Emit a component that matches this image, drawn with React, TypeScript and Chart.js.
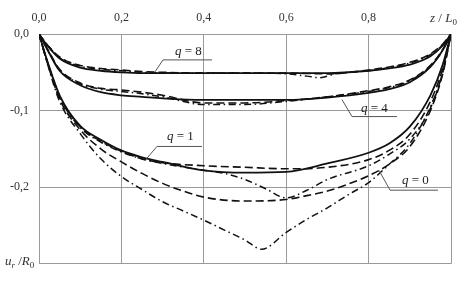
import React, { useEffect, useRef } from "react";
import { Chart, registerables } from "chart.js";
Chart.register(...registerables);

// ---- data (z/L0 along x, ur/R0 along y) ----
const X_COMMON = [0, 0.02, 0.05, 0.1, 0.15, 0.2, 0.25, 0.3, 0.4, 0.5, 0.6, 0.7, 0.8, 0.85, 0.9, 0.95, 0.98, 1];

const Q8_SOLID = [0, -0.015, -0.032, -0.044, -0.048, -0.05, -0.051, -0.051, -0.051, -0.051, -0.051, -0.051, -0.048, -0.045, -0.04, -0.029, -0.015, 0];
const Q8_DASH = [0, -0.014, -0.03, -0.041, -0.045, -0.047, -0.049, -0.05, -0.051, -0.051, -0.051, -0.052, -0.047, -0.043, -0.037, -0.026, -0.013, 0];
const Q8_DASHDOT_X = [0, 0.02, 0.05, 0.1, 0.15, 0.2, 0.25, 0.3, 0.4, 0.5, 0.6, 0.65, 0.68, 0.72, 0.8, 0.85, 0.9, 0.95, 0.98, 1];
const Q8_DASHDOT = [0, -0.014, -0.031, -0.042, -0.046, -0.048, -0.05, -0.051, -0.051, -0.051, -0.052, -0.055, -0.057, -0.052, -0.048, -0.044, -0.038, -0.027, -0.014, 0];

const Q4_SOLID = [0, -0.02, -0.048, -0.067, -0.076, -0.08, -0.082, -0.084, -0.086, -0.086, -0.086, -0.083, -0.077, -0.072, -0.063, -0.043, -0.021, 0];
const Q4_DASH = [0, -0.019, -0.046, -0.064, -0.071, -0.073, -0.076, -0.08, -0.09, -0.09, -0.087, -0.082, -0.074, -0.069, -0.06, -0.041, -0.02, 0];
const Q4_DASHDOT = [0, -0.02, -0.047, -0.065, -0.072, -0.075, -0.078, -0.082, -0.092, -0.092, -0.088, -0.082, -0.075, -0.07, -0.061, -0.042, -0.021, 0];

const Q1_SOLID = [0, -0.035, -0.08, -0.12, -0.138, -0.152, -0.161, -0.167, -0.178, -0.181, -0.18, -0.169, -0.155, -0.143, -0.121, -0.08, -0.04, 0];
const Q1_DASH = [0, -0.036, -0.081, -0.121, -0.14, -0.153, -0.163, -0.168, -0.172, -0.174, -0.176, -0.174, -0.164, -0.152, -0.131, -0.088, -0.045, 0];
const Q1_DASHDOT_X = [0, 0.02, 0.05, 0.1, 0.15, 0.2, 0.25, 0.3, 0.4, 0.45, 0.5, 0.55, 0.6, 0.65, 0.7, 0.8, 0.85, 0.9, 0.95, 0.98, 1];
const Q1_DASHDOT = [0, -0.036, -0.082, -0.122, -0.141, -0.154, -0.163, -0.169, -0.178, -0.182, -0.19, -0.202, -0.214, -0.204, -0.19, -0.172, -0.157, -0.137, -0.097, -0.05, 0];

const Q0_DASH_X = [0, 0.02, 0.05, 0.1, 0.15, 0.2, 0.25, 0.3, 0.35, 0.4, 0.5, 0.6, 0.65, 0.7, 0.75, 0.8, 0.85, 0.9, 0.95, 0.98, 1];
const Q0_DASH = [0, -0.037, -0.085, -0.125, -0.15, -0.167, -0.182, -0.195, -0.205, -0.213, -0.218, -0.216, -0.211, -0.205, -0.196, -0.185, -0.17, -0.147, -0.1, -0.052, 0];
const Q0_DASHDOT_X = [0, 0.02, 0.05, 0.1, 0.15, 0.2, 0.25, 0.3, 0.35, 0.4, 0.45, 0.5, 0.54, 0.6, 0.65, 0.7, 0.75, 0.8, 0.85, 0.9, 0.95, 0.98, 1];
const Q0_DASHDOT = [0, -0.038, -0.088, -0.13, -0.163, -0.186, -0.203, -0.219, -0.231, -0.243, -0.256, -0.269, -0.281, -0.259, -0.242, -0.227, -0.21, -0.194, -0.17, -0.143, -0.095, -0.05, 0];

// axis ticks
const X_MIN = 0, X_MAX = 1, X_STEP = 0.2;
const Y_MIN = -0.3, Y_MAX = 0, Y_STEP = 0.1;

// curve annotations: label text, text anchor (data units), leader polyline (data units)
const LABEL_Q = ["8", "4", "1", "0"];
const LABEL_POS = [[0.33, -0.0273], [0.7816, -0.1013], [0.3107, -0.139], [0.881, -0.196]];
const LEADERS = [
  [[0.2816, -0.0494], [0.301, -0.0338], [0.42, -0.0338]],
  [[0.7354, -0.0857], [0.7597, -0.1078], [0.8689, -0.1078]],
  [[0.2597, -0.1636], [0.2864, -0.1468], [0.3956, -0.1468]],
  [[0.8252, -0.1779], [0.852, -0.2039], [0.9684, -0.2039]],
];

const SERIF = "\"Liberation Serif\", \"Times New Roman\", serif";
const SOLID: number[] = [];
const DASH = [8, 4];
const DASHDOT = [7, 3.5, 1.5, 3.5];

const pts = (xs: number[], ys: number[]) => xs.map((x, i) => ({ x, y: ys[i] }));

function ds(xs: number[], ys: number[], dash: number[], width: number) {
  return {
    data: pts(xs, ys),
    borderColor: "#111",
    borderWidth: width,
    borderDash: dash,
    pointRadius: 0,
    fill: false,
    cubicInterpolationMode: "monotone" as const,
  };
}

const fmt = (v: number) => {
  const r = Math.round(v * 10) / 10;
  return (r === 0 ? 0 : r).toFixed(1).replace(".", ",");
};

const overlay = {
  id: "overlay",
  afterDatasetsDraw(chart: any) {
    const { ctx, chartArea } = chart;
    const xs = chart.scales.x, ys = chart.scales.y;
    ctx.save();
    // leaders
    ctx.strokeStyle = "#555";
    ctx.lineWidth = 1;
    ctx.setLineDash([]);
    LEADERS.forEach((poly) => {
      ctx.beginPath();
      poly.forEach(([x, y], i) => {
        const px = xs.getPixelForValue(x), py = ys.getPixelForValue(y);
        if (i === 0) ctx.moveTo(px, py); else ctx.lineTo(px, py);
      });
      ctx.stroke();
    });
    // labels
    ctx.fillStyle = "#222";
    ctx.textBaseline = "alphabetic";
    ctx.textAlign = "left";
    LABEL_Q.forEach((q, i) => {
      let px = xs.getPixelForValue(LABEL_POS[i][0]);
      const py = ys.getPixelForValue(LABEL_POS[i][1]);
      ctx.font = `italic 13px ${SERIF}`;
      ctx.fillText("q", px, py);
      px += ctx.measureText("q").width;
      ctx.font = `13px ${SERIF}`;
      ctx.fillText(" = " + q, px, py);
    });
    // axis titles
    const drawRuns = (x0: number, y0: number, runs: [string, string, number][]) => {
      let x = x0;
      runs.forEach(([t, f, dy]) => {
        ctx.font = f;
        ctx.fillText(t, x, y0 + dy);
        x += ctx.measureText(t).width;
      });
    };
    ctx.fillStyle = "#333";
    drawRuns(chartArea.right - 21, chartArea.top - 12, [
      ["z", `italic 13px ${SERIF}`, 0],
      [" / ", `13px ${SERIF}`, 0],
      ["L", `italic 13px ${SERIF}`, 0],
      ["0", `9px ${SERIF}`, 3],
    ]);
    drawRuns(chartArea.left - 34, chartArea.bottom + 1, [
      ["u", `italic 13px ${SERIF}`, 0],
      ["r", `italic 9px ${SERIF}`, 3],
      [" /", `13px ${SERIF}`, 0],
      ["R", `italic 13px ${SERIF}`, 0],
      ["0", `9px ${SERIF}`, 3],
    ]);
    ctx.restore();
  },
};

export default function App() {
  const ref = useRef<HTMLCanvasElement>(null);
  useEffect(() => {
    const chart = new Chart(ref.current!, {
      type: "line",
      data: {
        datasets: [
          ds(X_COMMON, Q8_SOLID, SOLID, 1.8),
          ds(X_COMMON, Q8_DASH, DASH, 1.6),
          ds(Q8_DASHDOT_X, Q8_DASHDOT, DASHDOT, 1.5),
          ds(X_COMMON, Q4_SOLID, SOLID, 1.8),
          ds(X_COMMON, Q4_DASH, DASH, 1.6),
          ds(X_COMMON, Q4_DASHDOT, DASHDOT, 1.5),
          ds(X_COMMON, Q1_SOLID, SOLID, 1.8),
          ds(X_COMMON, Q1_DASH, DASH, 1.6),
          ds(Q1_DASHDOT_X, Q1_DASHDOT, DASHDOT, 1.5),
          ds(Q0_DASH_X, Q0_DASH, DASH, 1.6),
          ds(Q0_DASHDOT_X, Q0_DASHDOT, DASHDOT, 1.5),
        ] as any,
      },
      options: {
        responsive: false,
        devicePixelRatio: 1,
        animation: false,
        layout: { padding: { left: 0, top: 0, right: 18, bottom: 16 } },
        plugins: { legend: { display: false }, tooltip: { enabled: false } },
        scales: {
          x: {
            type: "linear",
            position: "top",
            min: X_MIN,
            max: X_MAX,
            afterFit: (s: any) => { s.height = 34; },
            ticks: {
              stepSize: X_STEP,
              padding: 9,
              color: "#333",
              font: { family: SERIF, size: 12 },
              maxRotation: 0,
              callback: (v: any) => (Math.abs(v - X_MAX) < 1e-6 ? "" : fmt(v)),
            },
            grid: { color: "#9a9a9a", lineWidth: 1, drawTicks: false },
            border: { color: "#9a9a9a" },
          },
          y: {
            type: "linear",
            min: Y_MIN,
            max: Y_MAX,
            afterFit: (s: any) => { s.width = 39; },
            ticks: {
              stepSize: Y_STEP,
              padding: 10,
              color: "#333",
              font: { family: SERIF, size: 12 },
              callback: (v: any) => (Math.abs(v - Y_MIN) < 1e-6 ? "" : fmt(v)),
            },
            grid: { color: "#9a9a9a", lineWidth: 1, drawTicks: false },
            border: { color: "#9a9a9a" },
          },
        },
      },
      plugins: [overlay],
    } as any);
    return () => chart.destroy();
  }, []);
  return (
    <div style={{ position: "absolute", left: 0, top: 0, width: 469, height: 281, background: "#fff" }}>
      <canvas ref={ref} width={469} height={281} style={{ display: "block" }} />
    </div>
  );
}
